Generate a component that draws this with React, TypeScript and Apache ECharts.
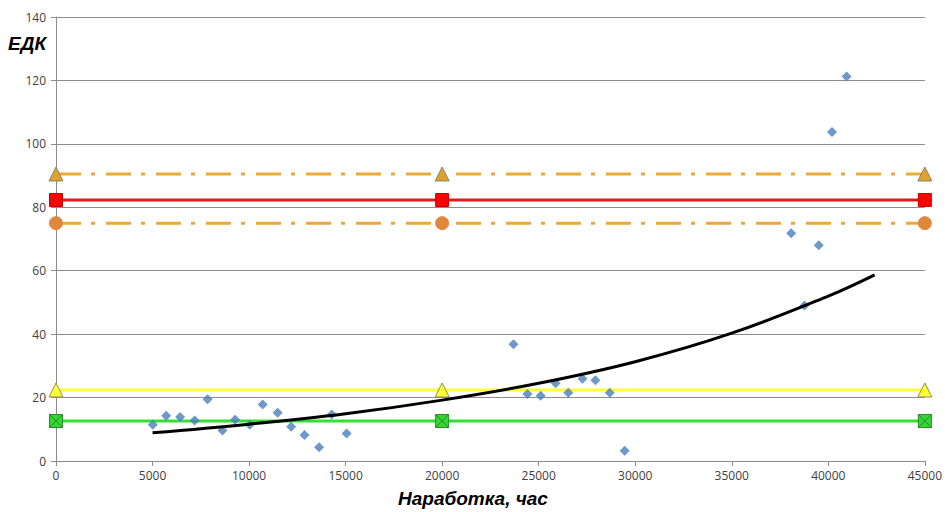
import React, { useEffect, useRef } from "react";
import * as echarts from "echarts";

// Observed points (Наработка, час ; ЕДК)
const obsHours = [
  5015, 5706, 6428, 7180, 7850, 8624, 9278, 10036, 10706, 11479, 12180, 12871, 13629, 14278, 15051,
  23696, 24418, 25103, 25876, 26531, 27268, 27938, 28680, 29454,
  38077, 38763, 39505, 40191, 40948,
];
const obsEdk = [
  11.4, 14.3, 13.9, 12.8, 19.5, 9.6, 13.0, 11.4, 17.8, 15.2, 10.8, 8.2, 4.3, 14.7, 8.7,
  36.8, 21.1, 20.6, 24.5, 21.5, 25.9, 25.5, 21.5, 3.2,
  71.8, 49.0, 68.0, 103.7, 121.2,
];

// Trend line
const trendHours = [5000, 10000, 15000, 20000, 25000, 30000, 35000, 40000, 42400];
const trendEdk = [8.9, 11.6, 14.9, 19.2, 24.5, 31.3, 40.3, 52.0, 58.7];

// Horizontal levels, marked at these hours
const levelHours = [0, 20000, 45000];
const upperOrange = 90.5;
const redLevel = 82.3;
const lowerOrange = 75;
const yellowLevel = 22.4;
const greenLevel = 12.6;

const xTicks = [0, 5000, 10000, 15000, 20000, 25000, 30000, 35000, 40000, 45000];
const yTicks = [0, 20, 40, 60, 80, 100, 120, 140];

const xSquare = "path://M0,0 L10,0 L10,10 L0,10 Z M0,0 L10,10 M10,0 L0,10";

export default function App() {
  const ref = useRef<HTMLDivElement>(null);
  useEffect(() => {
    if (!ref.current) return;
    const chart = echarts.init(ref.current, undefined, { renderer: "svg" });
    const level = (y: number) => levelHours.map((h) => [h, y]);
    const labelStyle = { color: "#404040", fontSize: 12, fontFamily: "'Open Sans', 'Liberation Sans', Arial, sans-serif" };
    chart.setOption({
      animation: false,
      backgroundColor: "#ffffff",
      grid: { left: 56, right: 15, top: 17, bottom: 51, containLabel: false },
      xAxis: {
        type: "value",
        min: xTicks[0],
        max: xTicks[xTicks.length - 1],
        interval: 5000,
        splitLine: { show: false },
        axisLine: { show: true, onZero: false, lineStyle: { color: "#8c8c8c", width: 1 } },
        axisTick: { show: true, length: 5, lineStyle: { color: "#8c8c8c" } },
        axisLabel: { ...labelStyle, margin: 8, formatter: (v: number) => String(v) },
      },
      yAxis: {
        type: "value",
        min: yTicks[0],
        max: yTicks[yTicks.length - 1],
        interval: 20,
        splitLine: { show: true, lineStyle: { color: "#8c8c8c", width: 1 } },
        axisLine: { show: true, lineStyle: { color: "#8c8c8c", width: 1 } },
        axisTick: { show: true, length: 5, lineStyle: { color: "#8c8c8c" } },
        axisLabel: { ...labelStyle, margin: 10, formatter: (v: number) => String(v) },
      },
      graphic: [
        {
          type: "text",
          left: 8,
          top: 34,
          style: {
            text: "ЕДК",
            font: "italic bold 19px 'Liberation Sans', Arial, sans-serif",
            fill: "#000",
          },
        },
        {
          type: "text",
          left: 398,
          top: 489,
          style: {
            text: "Наработка, час",
            font: "italic bold 19px 'Liberation Sans', Arial, sans-serif",
            fill: "#000",
          },
        },
      ],
      series: [
        {
          type: "line",
          data: level(upperOrange),
          symbol: "triangle",
          symbolSize: 14,
          clip: false,
          lineStyle: { color: "#eba93a", width: 3, type: [25, 10, 4, 11] },
          itemStyle: { color: "#e3a02c", borderColor: "#7f8a6a", borderWidth: 1 },
          z: 3,
        },
        {
          type: "line",
          data: level(redLevel),
          symbol: "rect",
          symbolSize: 13,
          clip: false,
          lineStyle: { color: "#dd1c1c", width: 3 },
          itemStyle: { color: "#ff0000", borderColor: "#cc0000", borderWidth: 1 },
          z: 3,
        },
        {
          type: "line",
          data: level(lowerOrange),
          symbol: "circle",
          symbolSize: 13,
          clip: false,
          lineStyle: { color: "#eba93a", width: 3, type: [25, 10, 4, 11] },
          itemStyle: { color: "#e0873c", borderColor: "#e0873c", borderWidth: 1 },
          z: 3,
        },
        {
          type: "line",
          data: level(yellowLevel),
          symbol: "triangle",
          symbolSize: 14,
          clip: false,
          lineStyle: { color: "#ffff33", width: 3 },
          itemStyle: { color: "#ffff33", borderColor: "#8f8f5a", borderWidth: 1 },
          z: 3,
        },
        {
          type: "line",
          data: level(greenLevel),
          symbol: xSquare,
          symbolSize: 13,
          clip: false,
          lineStyle: { color: "#33e033", width: 3 },
          itemStyle: { color: "#33d633", borderColor: "#2a8a2a", borderWidth: 1 },
          z: 3,
        },
        {
          type: "scatter",
          data: obsHours.map((h, i) => [h, obsEdk[i]]),
          symbol: "diamond",
          symbolSize: 10,
          itemStyle: { color: "#4a7ebb" },
          z: 4,
        },
        {
          type: "line",
          data: trendHours.map((h, i) => [h, trendEdk[i]]),
          smooth: 0.4,
          showSymbol: false,
          symbol: "none",
          lineStyle: { color: "#000000", width: 3 },
          z: 5,
        },
      ],
    });
    return () => chart.dispose();
  }, []);
  return (
    <div
      ref={ref}
      style={{ position: "absolute", left: 0, top: 0, width: 945, height: 512 }}
    />
  );
}
